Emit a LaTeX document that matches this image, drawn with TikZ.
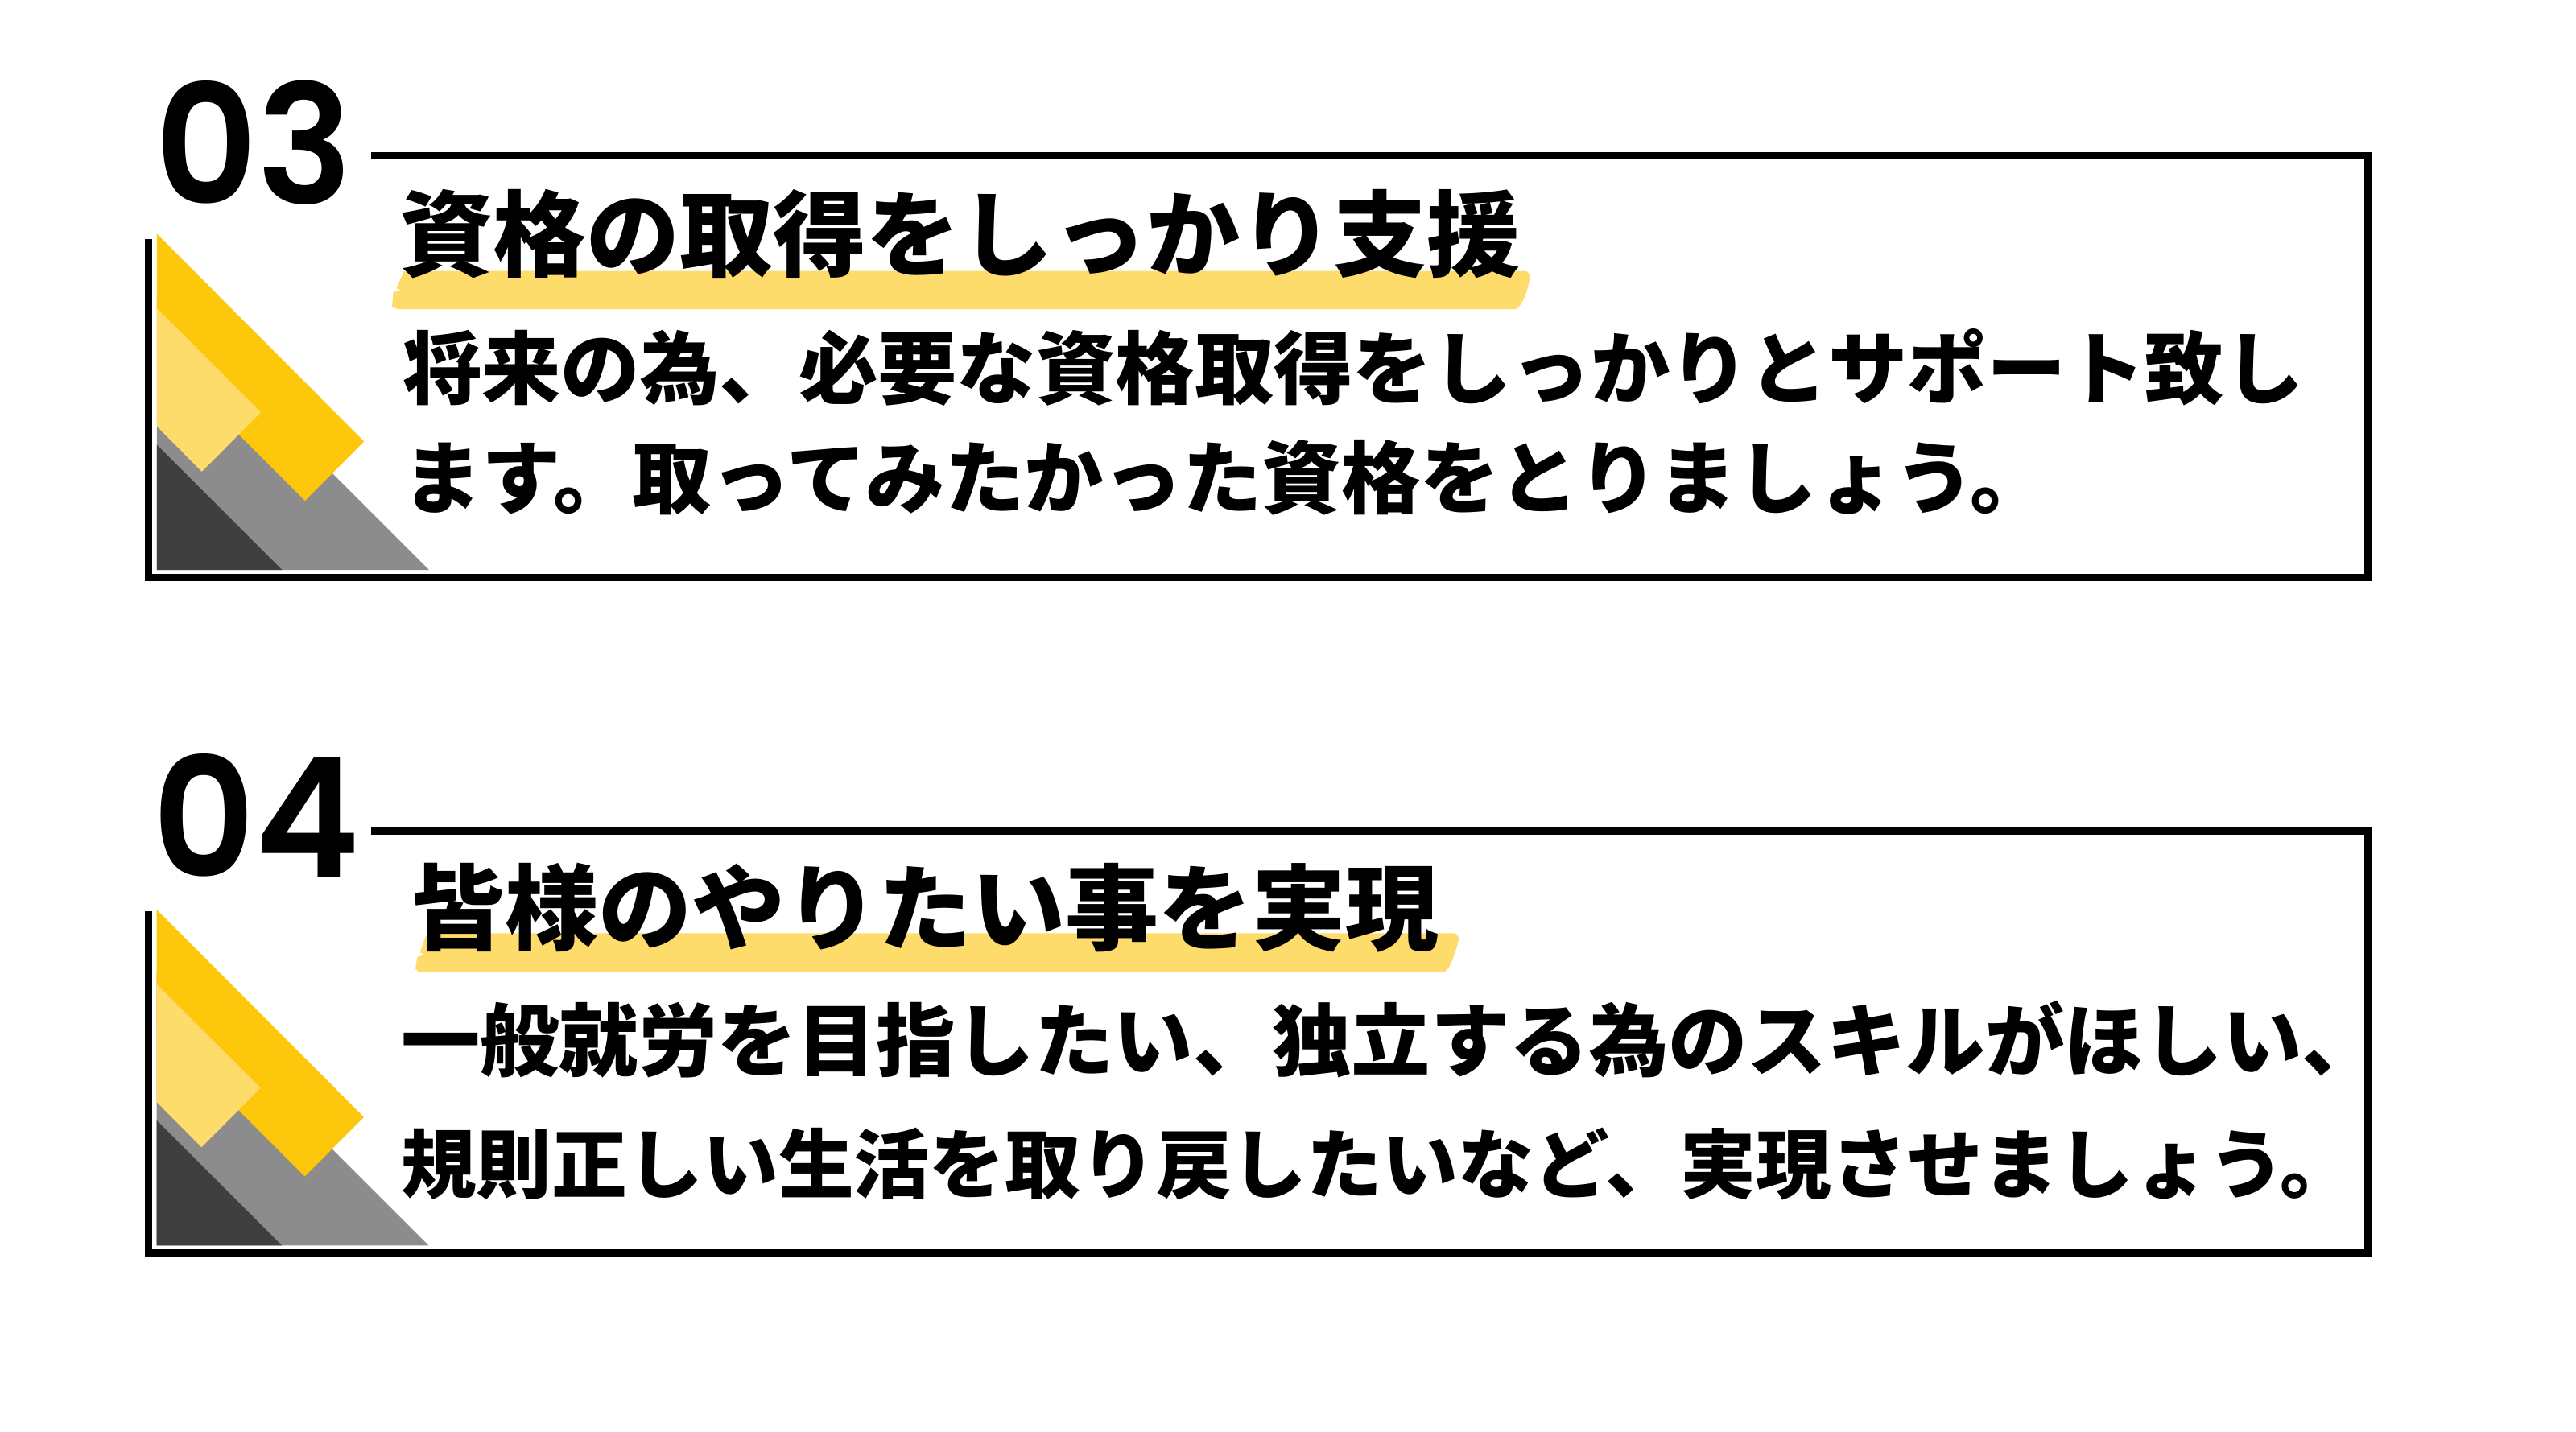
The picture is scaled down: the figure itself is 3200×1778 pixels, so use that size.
\documentclass[tikz,border=0pt]{standalone}
\usepackage{fontspec}
\newfontfamily\jpfont{Noto Sans CJK JP}
\newfontfamily\numfont{Poppins SemiBold}[FakeStretch=0.96]
\definecolor{dyellow}{HTML}{FDC70C}
\definecolor{lyellow}{HTML}{FDDC6B}
\definecolor{mgray}{HTML}{8C8C8C}
\definecolor{dgray}{HTML}{3F3F3F}
\tikzset{
  frameline/.style={line width=2.25pt, line join=miter, line cap=butt},
  txt/.style={inner sep=0pt, outer sep=0pt, anchor=base west},
  numtxt/.style={txt, font=\numfont\fontsize{51.5pt}{51.5pt}\selectfont},
  titletxt/.style={txt, font=\jpfont\bfseries\fontsize{29pt}{29pt}\selectfont},
  bodytxt/.style={txt, font=\jpfont\bfseries\fontsize{24.6pt}{24.6pt}\selectfont},
  bodytxtsmall/.style={txt, font=\jpfont\bfseries\fontsize{23.45pt}{23.45pt}\selectfont},
  deco/.pic={
    \fill[mgray] (0,-338) -- (338,0) -- (0,0) -- cycle;
    \fill[dgray] (0,-155.7) -- (155.7,0) -- (0,0) -- cycle;
    \fill[dyellow] (0,-417.6) -- (257.5,-159.6) -- (184.1,-85.9) -- (0,-270) -- cycle;
    \fill[lyellow] (0,-325) -- (129.3,-195.8) -- (55.9,-122.1) -- (0,-178.5) -- cycle;
  }
}
\begin{document}
\begin{tikzpicture}[x=0.25pt,y=-0.25pt]
\fill[white] (0,0) rectangle (3200,1778);
\useasboundingbox (0,0) rectangle (3200,1778);

% ---------------- block 03 ----------------
\pic at (194.8,708) {deco};
\draw[frameline] (461,193) -- (2941,193) -- (2941,717.6) -- (184,717.6) -- (184,297);
\fill[lyellow] (502,336.5) -- (1893,336.5)
  .. controls (1901,337) and (1901.5,343) .. (1899,352)
  .. controls (1896,365) and (1891,380) .. (1883,384)
  -- (494,384) -- (487,381) -- (488.5,363) -- (497.5,360.7) -- (492.5,358) -- cycle;
\node[numtxt] (num3) at (192,253.5) {03};
\node[titletxt] (title3) at (496,334.3) {資格の取得をしっかり支援};
\node[bodytxt] (body3a) at (500,494.6) {将来の為、必要な資格取得をしっかりとサポート致し};
\node[bodytxt] (body3b) at (500,630.6) {ます。取ってみたかった資格をとりましょう。};

% ---------------- block 04 ----------------
\pic at (194.5,1547.4) {deco};
\draw[frameline] (461,1032.7) -- (2941,1032.7) -- (2941,1556.7) -- (184,1556.7) -- (184,1132.4);
\fill[lyellow] (531.7,1159.3) -- (1805,1159.3)
  .. controls (1813,1160) and (1813,1166) .. (1810,1175)
  .. controls (1806,1188) and (1802,1203) .. (1794,1207.3)
  -- (520,1207.3) -- (516,1203.3) -- (518.3,1189.3) -- (526.7,1185.7) -- (521.7,1183.3) -- (528.3,1164) -- cycle;
\node[numtxt] (num4) at (189,1089.5) {04};
\node[titletxt] (title4) at (511,1171.8) {皆様のやりたい事を実現};
\node[bodytxt] (body4a) at (498,1329.3) {一般就労を目指したい、独立する為のスキルがほしい、};
\node[bodytxtsmall] (body4b) at (498,1481) {規則正しい生活を取り戻したいなど、実現させましょう。};
\end{tikzpicture}
\end{document}
